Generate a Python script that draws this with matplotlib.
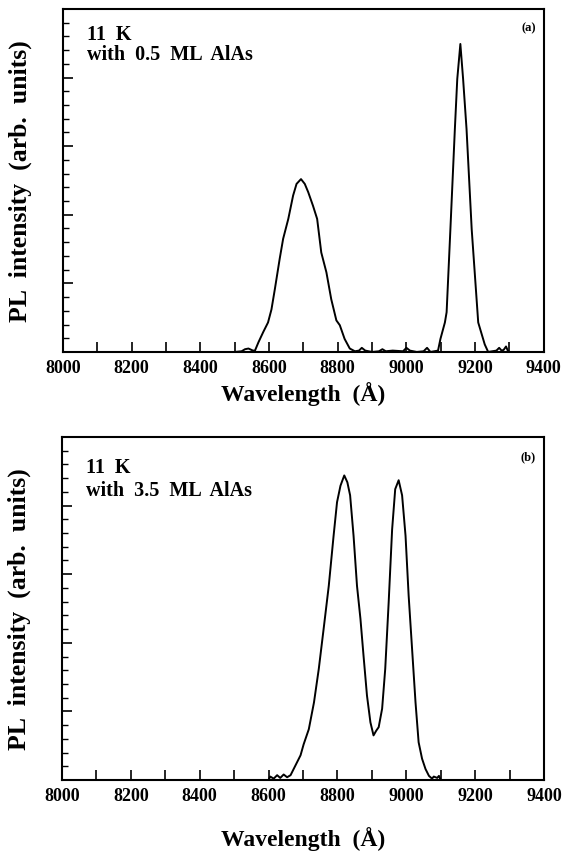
import numpy as np
import matplotlib
matplotlib.use("Agg")
import matplotlib.pyplot as plt
from matplotlib.ticker import MultipleLocator

# ============================================
# DATA (intensity in arb. units)
# ============================================

# (a) 11 K, 0.5 ML AlAs
wl_a = [8500, 8520, 8530, 8540, 8553, 8559, 8569, 8583, 8597, 8607, 8617,
        8631, 8641, 8656, 8670, 8680, 8693, 8704, 8714, 8728, 8740, 8752,
        8767, 8781, 8796, 8806, 8820, 8835, 8850, 8862, 8870, 8880, 8900,
        8920, 8930, 8940, 8960, 8990, 9000, 9010, 9030, 9050, 9060, 9070,
        9092, 9099, 9112, 9117, 9128, 9141, 9148, 9157, 9165, 9175, 9190,
        9209, 9228, 9238, 9250, 9262, 9270, 9277, 9283, 9290, 9295, 9300]
pl_a = [0.0, 0.01, 0.04, 0.05, 0.02, 0.02, 0.14, 0.29, 0.43, 0.62, 0.92,
        1.36, 1.65, 1.94, 2.28, 2.45, 2.52, 2.45, 2.33, 2.13, 1.94, 1.45,
        1.16, 0.77, 0.46, 0.39, 0.19, 0.05, 0.01, 0.02, 0.06, 0.02, 0.0,
        0.01, 0.04, 0.01, 0.02, 0.01, 0.06, 0.02, 0.0, 0.01, 0.06, 0.0,
        0.02, 0.19, 0.43, 0.58, 1.79, 3.25, 3.98, 4.49, 3.98, 3.25, 1.79,
        0.43, 0.11, 0.0, 0.01, 0.02, 0.06, 0.02, 0.03, 0.08, 0.02, 0.0]

# (b) 11 K, 3.5 ML AlAs
wl_b = [8600, 8605, 8615, 8625, 8634, 8644, 8654, 8664, 8678, 8693, 8702,
        8717, 8732, 8746, 8760, 8775, 8789, 8799, 8809, 8820, 8829, 8837,
        8847, 8857, 8867, 8876, 8886, 8896, 8905, 8913, 8920, 8930, 8939,
        8949, 8959, 8968, 8978, 8988, 8998, 9007, 9017, 9027, 9036, 9046,
        9056, 9066, 9075, 9080, 9090, 9095, 9100]
pl_b = [0.0, 0.05, 0.02, 0.07, 0.03, 0.08, 0.04, 0.07, 0.21, 0.36, 0.52,
        0.74, 1.13, 1.62, 2.20, 2.83, 3.56, 4.05, 4.29, 4.44, 4.34, 4.15,
        3.56, 2.83, 2.35, 1.81, 1.23, 0.84, 0.65, 0.72, 0.77, 1.04, 1.62,
        2.59, 3.65, 4.24, 4.37, 4.15, 3.56, 2.69, 1.91, 1.13, 0.55, 0.31,
        0.16, 0.06, 0.02, 0.05, 0.03, 0.06, 0.0]

X_TICKS = [8000, 8200, 8400, 8600, 8800, 9000, 9200, 9400]

# ============================================
# STYLE
# ============================================

plt.rcParams["font.family"] = ["Liberation Serif", "DejaVu Serif"]
plt.rcParams["font.weight"] = "bold"

fig = plt.figure(figsize=(5.65, 8.54), dpi=100)

ax_a = fig.add_axes([0.1115, 0.5867, 0.851, 0.4016])
ax_b = fig.add_axes([0.1097, 0.0855, 0.853, 0.4016])


def style_axis(ax, xlabel_pad):
    ax.set_xlim(8000, 9400)
    ax.set_ylim(0, 5)
    ax.set_xticks(X_TICKS)
    ax.set_xticklabels([str(t) for t in X_TICKS], fontsize=13, fontweight="bold")
    ax.xaxis.set_minor_locator(MultipleLocator(100))
    ax.yaxis.set_major_locator(MultipleLocator(1))
    ax.yaxis.set_minor_locator(MultipleLocator(0.2))
    ax.set_yticklabels([])
    ax.tick_params(axis="x", which="both", direction="in", length=7, width=1.2,
                   top=False, pad=5)
    ax.tick_params(axis="y", which="major", direction="in", length=7, width=1.2,
                   right=False)
    ax.tick_params(axis="y", which="minor", direction="in", length=4, width=1.0,
                   right=False)
    for s in ax.spines.values():
        s.set_linewidth(1.5)
    ax.set_xlabel("Wavelength  (Å)", fontsize=17, fontweight="bold",
                  labelpad=xlabel_pad)
    ax.set_ylabel("PL  intensity  (arb.  units)", fontsize=18.5,
                  fontweight="bold", labelpad=19)


ax_a.plot(wl_a, pl_a, color="black", linewidth=1.4)
style_axis(ax_a, 4)
ax_a.text(0.05, 0.957, "11  K", transform=ax_a.transAxes, fontsize=14.5,
          fontweight="bold", va="top", ha="left")
ax_a.text(0.05, 0.898, "with  0.5  ML  AlAs", transform=ax_a.transAxes,
          fontsize=14.5, fontweight="bold", va="top", ha="left")
ax_a.text(0.983, 0.965, "(a)", transform=ax_a.transAxes, fontsize=9,
          fontweight="bold", va="top", ha="right")

ax_b.plot(wl_b, pl_b, color="black", linewidth=1.4)
style_axis(ax_b, 16)
ax_b.text(0.05, 0.942, "11  K", transform=ax_b.transAxes, fontsize=14.5,
          fontweight="bold", va="top", ha="left")
ax_b.text(0.05, 0.876, "with  3.5  ML  AlAs", transform=ax_b.transAxes,
          fontsize=14.5, fontweight="bold", va="top", ha="left")
ax_b.text(0.983, 0.962, "(b)", transform=ax_b.transAxes, fontsize=9,
          fontweight="bold", va="top", ha="right")

fig.savefig("out.png", dpi=100)
